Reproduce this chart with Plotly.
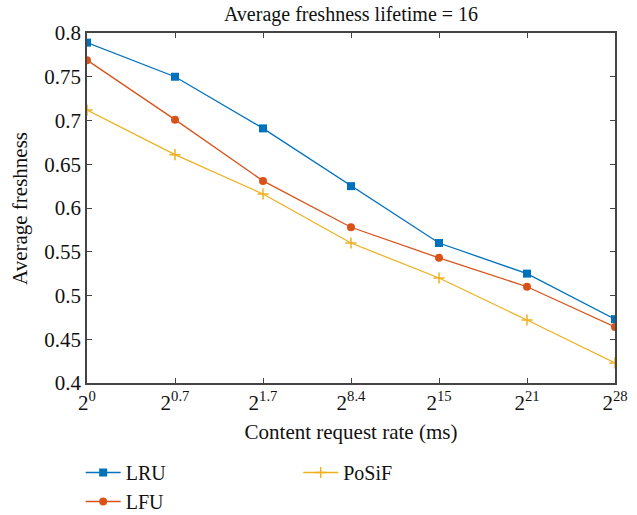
import plotly.graph_objects as go

categories = ["2^0", "2^0.7", "2^1.7", "2^8.4", "2^15", "2^21", "2^28"]
tick_labels = ["2<sup>0</sup>", "2<sup>0.7</sup>", "2<sup>1.7</sup>", "2<sup>8.4</sup>",
               "2<sup>15</sup>", "2<sup>21</sup>", "2<sup>28</sup>"]
lru = [0.789, 0.750, 0.691, 0.625, 0.560, 0.525, 0.473]
lfu = [0.769, 0.701, 0.631, 0.578, 0.543, 0.510, 0.464]
posif = [0.712, 0.661, 0.616, 0.560, 0.520, 0.472, 0.423]

FONT = "Liberation Serif"
fig = go.Figure()
fig.add_trace(go.Scatter(x=categories, y=lru, name="LRU", mode="lines+markers",
                         line=dict(color="#0072BD", width=1.3),
                         marker=dict(symbol="square", size=8, color="#0072BD"),
                         legend="legend"))
fig.add_trace(go.Scatter(x=categories, y=lfu, name="LFU", mode="lines+markers",
                         line=dict(color="#D95319", width=1.3),
                         marker=dict(symbol="circle", size=8, color="#D95319"),
                         legend="legend"))
fig.add_trace(go.Scatter(x=categories, y=posif, name="PoSiF", mode="lines+markers",
                         line=dict(color="#EDB120", width=1.3),
                         marker=dict(symbol="cross-thin", size=8,
                                     line=dict(color="#EDB120", width=1.5)),
                         legend="legend2"))

axis_common = dict(showline=True, linecolor="#444", linewidth=1.5, mirror="ticks",
                   ticks="inside", ticklen=5, tickcolor="#444", showgrid=False,
                   zeroline=False, tickfont=dict(family=FONT, size=21, color="#111"))
fig.update_xaxes(type="category", categoryorder="array", categoryarray=categories,
                 tickvals=categories, ticktext=tick_labels, range=[0, 6],
                 title=dict(text="Content request rate (ms)",
                            font=dict(family=FONT, size=21, color="#111"), standoff=10),
                 **axis_common)
fig.update_yaxes(range=[0.4, 0.8], dtick=0.05, tick0=0.4, **axis_common)

fig.add_annotation(text="Average freshness", textangle=-90, showarrow=False,
                   xref="paper", yref="paper", x=-0.127, y=0.5,
                   xanchor="center", yanchor="middle",
                   font=dict(family=FONT, size=21, color="#111"))

fig.update_layout(
    width=637, height=515,
    margin=dict(l=87, r=22, t=33, b=132, autoexpand=False),
    paper_bgcolor="white", plot_bgcolor="white",
    title=dict(text="Average freshness lifetime = 16", x=0.551, xanchor="center",
               y=0.973, yanchor="middle",
               font=dict(family=FONT, size=20, color="#111")),
    legend=dict(x=-0.012, y=-0.2, xanchor="left", yanchor="top", orientation="v",
                font=dict(family=FONT, size=20, color="#111"), tracegroupgap=0,
                bgcolor="rgba(0,0,0,0)", itemwidth=35),
    legend2=dict(x=0.4, y=-0.2, xanchor="left", yanchor="top", orientation="v",
                 font=dict(family=FONT, size=20, color="#111"),
                 bgcolor="rgba(0,0,0,0)", itemwidth=35),
)
fig.write_html("out.html")
